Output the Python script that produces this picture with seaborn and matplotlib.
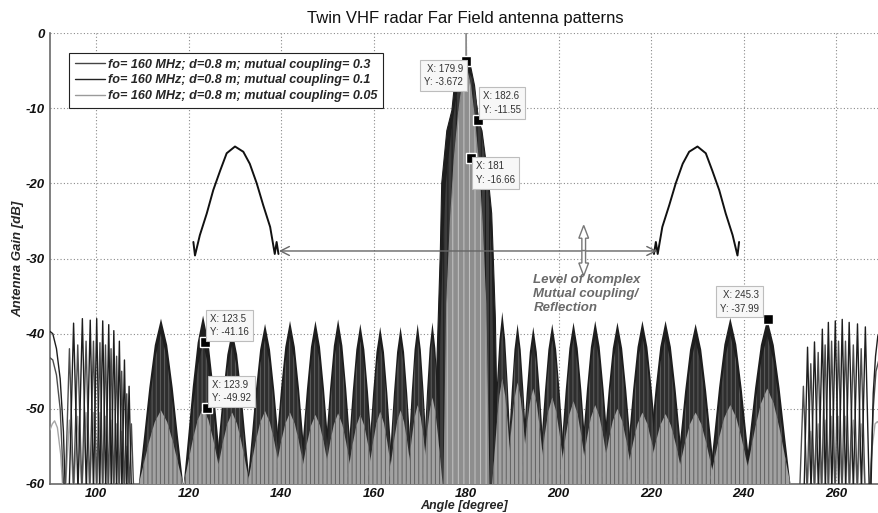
import numpy as np
import pandas as pd
import matplotlib
matplotlib.use("Agg")
import matplotlib.pyplot as plt
import seaborn as sns
from matplotlib.patches import FancyArrow
from matplotlib.lines import Line2D

# ---------------- data ----------------
title = "Twin VHF radar Far Field antenna patterns"
x_label = "Angle [degree]"
y_label = "Antenna Gain [dB]"
series_labels = [
    "fo= 160 MHz; d=0.8 m; mutual coupling= 0.3",
    "fo= 160 MHz; d=0.8 m; mutual coupling= 0.1",
    "fo= 160 MHz; d=0.8 m; mutual coupling= 0.05",
]
x_ticks = [100, 120, 140, 160, 180, 200, 220, 240, 260]
y_ticks = [0, -10, -20, -30, -40, -50, -60]

# grating side lobes (centre angle, half width at the floor, peak per series)
lobe_deg = [114.0, 123.1, 129.4, 136.5, 141.9, 147.4, 152.3, 157.1, 161.4, 165.8, 169.5, 172.7,
            187.8, 191.1, 194.5, 198.6, 203.2, 207.9, 212.7, 218.1, 223.1, 229.6, 237.1, 245.1]
lobe_halfwidth = [4.8, 4.2, 3.8, 3.8, 3.7, 3.5, 3.3, 3.1, 2.9, 2.7, 2.4, 2.2,
                  2.2, 2.4, 2.7, 3.0, 3.2, 3.4, 3.6, 3.8, 4.1, 4.3, 4.6, 5.0]
lobe_peak_s1 = [-38.0, -37.6, -39.5, -38.7, -38.3, -38.3, -38.1, -38.7, -39.1, -39.1, -38.7, -38.5,
                -37.1, -38.7, -39.1, -38.7, -38.5, -38.3, -38.5, -38.3, -38.3, -38.7, -37.9, -38.0]
lobe_peak_s2 = [-40.0, -41.2, -41.5, -40.8, -40.5, -40.6, -40.4, -41.0, -41.3, -41.2, -40.8, -40.5,
                -39.5, -40.8, -41.2, -40.9, -40.7, -40.5, -40.7, -40.5, -40.6, -41.0, -40.2, -40.3]
lobe_peak_s3 = [-50.2, -49.9, -50.5, -50.3, -50.5, -50.8, -50.6, -50.8, -50.4, -50.2, -49.5, -48.5,
                -46.0, -46.5, -47.3, -48.5, -49.0, -49.5, -50.0, -50.5, -50.7, -50.5, -49.5, -47.3]

# main beam envelopes
mb_s1_deg = [173.3, 173.6, 174.1, 174.4, 174.7, 175.8, 176.9, 177.6, 179.0, 179.9, 181.0, 181.8,
             182.6, 183.4, 184.8, 185.5, 185.8, 186.3, 186.9]
mb_s1_db = [-60, -45, -35, -29, -20, -13, -10.3, -6.0, -4.5, -3.67, -4.6, -7.0,
            -11.55, -13, -19.6, -24, -29, -38, -60]
mb_s2_deg = [173.8, 174.4, 175.0, 175.6, 176.6, 177.6, 178.6, 180.0, 181.4, 182.4, 183.6, 184.8,
             185.5, 186.3]
mb_s2_db = [-60, -40, -28, -20, -14, -9.5, -6.0, -4.6, -6.2, -9.8, -14.5, -21, -30, -60]
mb_s3_deg = [175.2, 175.8, 176.6, 177.4, 178.3, 179.1, 179.9, 180.0, 180.1, 180.9, 181.7, 182.6,
             183.4, 184.2, 184.9]
mb_s3_db = [-60, -36, -25, -17, -11, -7, -4.8, 0.0, -4.8, -7, -11, -17, -25, -36, -60]

# resolved fringes at the two ends of the scan
left_edge_s1_deg = [90.0, 90.6, 91.4, 92.2, 92.9, 93.3]
left_edge_s1_db = [-39.7, -40.0, -42.0, -46.0, -53.0, -61]
left_edge_s2_deg = [90.0, 90.6, 91.4, 92.2, 93.0]
left_edge_s2_db = [-43.2, -43.5, -45.5, -50.0, -61]
left_edge_s3_deg = [90.0, 90.5, 91.0, 91.6, 92.3, 92.8]
left_edge_s3_db = [-52.8, -52.0, -51.6, -52.5, -56.0, -61]

left_s1_deg = [95.1, 97.0, 98.7, 100.1, 101.4, 102.7, 103.8, 105.0, 106.1, 107.1]
left_s1_db = [-38.6, -38.0, -38.2, -38.0, -38.3, -38.8, -39.6, -41.0, -43.5, -47.0]
left_s2_deg = [94.2, 96.0, 97.8, 99.4, 100.8, 102.0, 103.2, 104.4, 105.5, 106.6, 107.6]
left_s2_db = [-42.0, -41.5, -41.0, -41.0, -41.2, -41.5, -42.0, -43.0, -45.0, -48.0, -52.0]
left_s3_deg = [94.2, 96.0, 97.8, 99.4, 100.8, 102.0, 103.2, 104.4, 105.5, 106.6]
left_s3_db = [-51.5, -51.0, -50.5, -50.5, -50.5, -51.0, -51.5, -52.0, -53.0, -55.0]

right_s1_deg = [253.8, 255.3, 257.0, 258.3, 259.8, 261.3, 262.8, 264.6, 266.3]
right_s1_db = [-41.8, -41.1, -39.4, -38.5, -38.3, -38.1, -38.5, -38.7, -39.1]
right_s2_deg = [252.9, 254.5, 256.1, 257.6, 259.0, 260.5, 262.0, 263.7, 265.4]
right_s2_db = [-47.0, -44.0, -42.5, -41.5, -41.0, -41.0, -41.0, -41.5, -42.0]
right_s3_deg = [254.5, 256.1, 257.6, 259.0, 260.5, 262.0, 263.7, 265.4]
right_s3_db = [-53.0, -52.0, -51.5, -51.0, -51.0, -51.0, -51.5, -52.0]

right_edge_s1_deg = [267.5, 268.0, 268.5, 269.0, 269.3]
right_edge_s1_db = [-61, -48, -43, -40.3, -39.9]
right_edge_s2_deg = [267.3, 268.0, 268.6, 269.3]
right_edge_s2_db = [-61, -50, -45, -43.3]
right_edge_s3_deg = [267.2, 267.8, 268.4, 268.9, 269.3]
right_edge_s3_db = [-61, -55, -52, -51.7, -52]

# inset single-element pattern sketches
arcL_deg = [121.0, 121.35, 122.4, 123.9, 125.3, 126.8, 128.2, 130.0, 131.8, 133.2, 134.7, 136.1,
            137.6, 138.6, 139.0, 139.4]
arcL_db = [-27.8, -29.6, -26.9, -24.0, -20.9, -18.3, -16.0, -15.1, -15.8, -17.4, -20.0, -22.9,
           -25.8, -29.4, -27.8, -29.4]
arcR_deg = [220.6, 221.0, 221.4, 222.4, 223.9, 225.3, 226.8, 228.2, 230.0, 231.8, 233.2, 234.7,
            236.1, 237.6, 238.65, 239.0]
arcR_db = [-29.4, -27.8, -29.4, -25.8, -22.9, -20.0, -17.4, -15.8, -15.1, -16.0, -18.3, -20.9,
           -24.0, -26.9, -29.6, -27.8]

# annotation: level of mutual coupling
level_db = -29.0
level_from, level_to = 139.5, 221.3
vert_arrow_deg = 205.4
vert_arrow_top, vert_arrow_bottom = -25.6, -32.3
note_text = "Level of komplex\nMutual coupling/\nReflection"
note_deg, note_db = 194.5, -32.0

# data tips
tip_x = [179.9, 182.6, 181.0, 123.5, 123.9, 245.3]
tip_y = [-3.672, -11.55, -16.66, -41.16, -49.92, -37.99]
tip_xlabel = ["179.9", "182.6", "181", "123.5", "123.9", "245.3"]
tip_ylabel = ["-3.672", "-11.55", "-16.66", "-41.16", "-49.92", "-37.99"]
tip_side = ["lower left", "upper right", "lower right", "upper right", "upper right", "upper left"]

# ---------------- styling ----------------
c1, c2, c3 = "#1e1e1e", "#4c4c4c", "#a6a6a6"
sns.set_theme(style="white")
plt.rcParams["font.family"] = ["Liberation Sans", "DejaVu Sans"]
plt.rcParams["hatch.linewidth"] = 0.7

fig = plt.figure(figsize=(8.79, 5.13), dpi=100)
ax = fig.add_axes([50 / 879, 29 / 513, 829 / 879, 451 / 513])
ax.set_xlim(90, 269.25)
ax.set_ylim(-60, 0)

# lobe outline: pointed arch with slightly bulging flanks (relative shape)
arch_w = [1.0, 0.77, 0.53, 0.28, 0.0]
arch_h = [0.0, 0.28, 0.58, 0.84, 1.0]


def lobe_polys(peaks, scale=1.0):
    for c, hw, p in zip(lobe_deg, lobe_halfwidth, peaks):
        depth = p + 60
        left_x = [c - hw * scale * w for w in arch_w]
        left_y = [-60 + depth * h for h in arch_h]
        right_x = [c + hw * scale * w for w in arch_w[::-1][1:]]
        right_y = [-60 + depth * h for h in arch_h[::-1][1:]]
        yield left_x + right_x, left_y + right_y


for xs, ys in lobe_polys(lobe_peak_s1):
    ax.fill(xs, ys, facecolor=c1, edgecolor="none", zorder=2)
for xs, ys in lobe_polys(lobe_peak_s2, 0.9):
    ax.fill(xs, ys, facecolor="#2e2e2e", hatch="||||", edgecolor="#5e5e5e", lw=0, zorder=3)
for xs, ys in lobe_polys(lobe_peak_s3, 1.0):
    ax.fill(xs, ys, facecolor="#a2a2a2", hatch="||||", edgecolor="#606060", lw=0, zorder=4)

# main beam ----------------------------------------------------------
ax.fill(mb_s1_deg, mb_s1_db, facecolor=c1, edgecolor=c1, lw=0.8, zorder=2)
ax.fill(mb_s2_deg, mb_s2_db, facecolor="#3c3c3c", hatch="||||", edgecolor="#1a1a1a", lw=0, zorder=3)
ax.fill(mb_s3_deg, mb_s3_db, facecolor="#8e8e8e", hatch="|||", edgecolor="#c4c4c4", lw=0, zorder=4)
sns.lineplot(x=mb_s3_deg, y=mb_s3_db, ax=ax, color="#8c8c8c", lw=0.9, sort=False,
             estimator=None, zorder=5)


# resolved fringes -----------------------------------------------------
def fringe_line(peaks_deg, peaks_db):
    xs, ys = [], []
    for i, (d, v) in enumerate(zip(peaks_deg, peaks_db)):
        if i == 0:
            half = (peaks_deg[1] - d) / 2
        else:
            half = (d - peaks_deg[i - 1]) / 2
        xs += [d - half, d]
        ys += [-61, v]
    xs.append(peaks_deg[-1] + (peaks_deg[-1] - peaks_deg[-2]) / 2)
    ys.append(-61)
    return xs, ys


groups = [
    (left_edge_s3_deg, left_edge_s3_db, c3), (right_edge_s3_deg, right_edge_s3_db, c3),
    (left_edge_s2_deg, left_edge_s2_db, c2), (right_edge_s2_deg, right_edge_s2_db, c2),
    (left_edge_s1_deg, left_edge_s1_db, c1), (right_edge_s1_deg, right_edge_s1_db, c1),
]
for pd_, pv, col in [(left_s3_deg, left_s3_db, c3), (right_s3_deg, right_s3_db, c3),
                     (left_s2_deg, left_s2_db, c2), (right_s2_deg, right_s2_db, c2),
                     (left_s1_deg, left_s1_db, c1), (right_s1_deg, right_s1_db, c1)]:
    fx, fy = fringe_line(pd_, pv)
    groups.append((fx, fy, col))
for gx, gy, col in groups:
    sns.lineplot(x=gx, y=gy, ax=ax, color=col, lw=1.0, sort=False, estimator=None, zorder=6)

# inset arcs -----------------------------------------------------------
for a_deg, a_db in [(arcL_deg, arcL_db), (arcR_deg, arcR_db)]:
    sns.lineplot(x=a_deg, y=a_db, ax=ax, color="#111111", lw=1.4, sort=False,
                 estimator=None, zorder=7)

# level arrows -----------------------------------------------------------
ax.annotate("", xy=(level_from, level_db), xytext=(level_to, level_db),
            arrowprops=dict(arrowstyle="<->", color="#666666", lw=1.0,
                            mutation_scale=16, shrinkA=0, shrinkB=0), zorder=7)
mid = (vert_arrow_top + vert_arrow_bottom) / 2
for end in (vert_arrow_top, vert_arrow_bottom):
    ax.add_patch(FancyArrow(vert_arrow_deg, mid, 0, end - mid, width=0.8, head_width=2.1,
                            head_length=1.7, length_includes_head=True,
                            facecolor="white", edgecolor="#777777", lw=1.0, zorder=8))
ax.text(note_deg, note_db, note_text, color="#6a6a6a", fontsize=9.5, fontweight="bold",
        fontstyle="italic", ha="left", va="top", linespacing=1.25, zorder=8)

# data tips ------------------------------------------------------------
offsets = {"lower left": (-3, -3, "right", "top"), "upper right": (5, 5, "left", "bottom"),
           "lower right": (5, -3, "left", "top"), "upper left": (-9, 5, "right", "bottom")}
for x, y, xl, yl, side in zip(tip_x, tip_y, tip_xlabel, tip_ylabel, tip_side):
    ax.plot([x], [y], marker="s", ms=6.5, mfc="black", mec="white", mew=1.0, zorder=10)
    dx, dy, ha, va = offsets[side]
    ax.annotate(f"X: {xl}\nY: {yl}", xy=(x, y), xytext=(dx, dy), textcoords="offset pixels",
                ha=ha, va=va, fontsize=7, color="#333333", linespacing=1.45, zorder=11,
                bbox=dict(boxstyle="square,pad=0.4", fc="#f7f7f7", ec="#bdbdbd", lw=0.8))

# axes cosmetics -------------------------------------------------------
ax.set_xticks(x_ticks)
ax.set_yticks(y_ticks)
ax.set_xticklabels([str(t) for t in x_ticks])
ax.set_yticklabels([str(t) for t in y_ticks])
for lab in ax.get_xticklabels() + ax.get_yticklabels():
    lab.set_fontweight("bold")
    lab.set_fontstyle("italic")
    lab.set_fontsize(9.5)
    lab.set_color("#111111")
ax.tick_params(axis="y", length=0, pad=4)
ax.tick_params(axis="x", length=0, pad=3)
ax.grid(True, color="#8a8a8a", linestyle=(0, (1, 2)), lw=0.8)
ax.set_axisbelow(True)
for s in ["top", "right"]:
    ax.spines[s].set_visible(False)
for s in ["left", "bottom"]:
    ax.spines[s].set_color("#6a6a6a")
    ax.spines[s].set_linewidth(1.2)
ax.set_xlabel(x_label, fontsize=9, fontweight="bold", fontstyle="italic", labelpad=0)
ax.set_ylabel(y_label, fontsize=9.5, fontweight="bold", fontstyle="italic", labelpad=1)
fig.text(465 / 879, 1 - 18 / 513, title, ha="center", va="center", fontsize=12, color="#111111")

handles = [Line2D([], [], color=c, lw=1.0) for c in ("#444444", "#222222", "#9a9a9a")]
leg = ax.legend(handles, series_labels, loc="upper left", bbox_to_anchor=(0.0229, 0.956),
                borderaxespad=0, frameon=True, fancybox=False, framealpha=1,
                edgecolor="#222222", borderpad=0.45, handlelength=2.4, labelspacing=0.3,
                handletextpad=0.2,
                prop=dict(family=["Liberation Sans"], weight="bold", style="italic", size=9.1))
leg.get_frame().set_linewidth(0.8)
leg.set_zorder(12)

fig.savefig("out.png", dpi=100)
